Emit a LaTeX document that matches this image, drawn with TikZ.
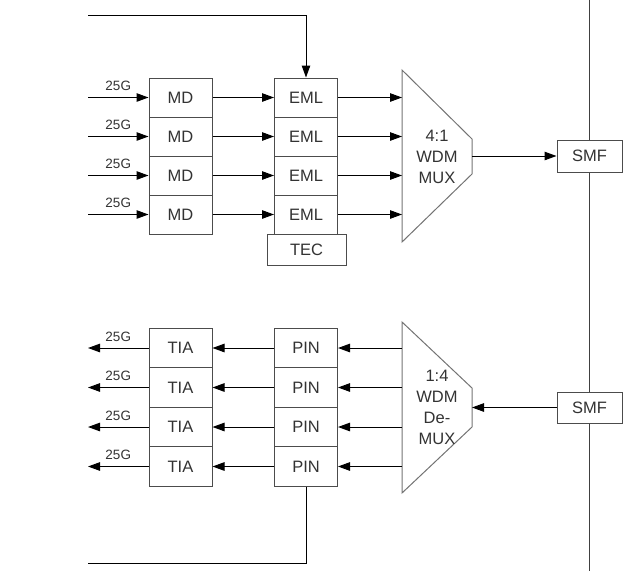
\documentclass[tikz,border=0pt]{standalone}
\usepackage{fontspec}
\setmainfont{Liberation Sans}
\usetikzlibrary{arrows.meta}
\tikzset{
  block/.style={
    draw=black!70,
    fill=white,
    line width=1pt,
    text=black!80,
    inner sep=0pt,
    font=\fontsize{16.5}{19}\selectfont
  },
  chan/.style={block, minimum width=63pt, minimum height=39pt},
  sig/.style={-{Triangle[length=12pt,width=8.5pt]}, line width=1pt},
  rate/.style={midway, yshift=11.5pt, inner sep=0pt, text=black!80,
    font=\fontsize{13.5}{15}\selectfont},
  wdm/.style={draw=black!55, line width=1pt},
}

\begin{document}
\begin{tikzpicture}[x=1pt,y=-1pt]
\useasboundingbox (0,0) rectangle (640,571);
% transmit side
\node (md1) at (180.5,97.5) [chan] {MD};
\node (md2) at (180.5,136.5) [chan] {MD};
\node (md3) at (180.5,175.5) [chan] {MD};
\node (md4) at (180.5,214.5) [chan] {MD};
\node (eml1) at (306,97.5) [chan] {EML};
\node (eml2) at (306,136.5) [chan] {EML};
\node (eml3) at (306,175.5) [chan] {EML};
\node (eml4) at (306,214.5) [chan] {EML};
\node (tec) at (306.5,249.5) [block,minimum width=79pt,minimum height=31pt] {TEC};
\draw [wdm] (402,70) -- (472,139) -- (472,174) -- (402,242) -- cycle;
\node (mux) at (437,157) [align=center,text=black!80,
  font=\fontsize{16.5}{21}\selectfont] {4:1\\WDM\\MUX};
\coordinate (muxin) at (402,156);
\coordinate (muxout) at (472,156);
% receive side
\node (tia1) at (180.5,348) [chan,minimum height=39.5pt] {TIA};
\node (tia2) at (180.5,387.5) [chan,minimum height=39.5pt] {TIA};
\node (tia3) at (180.5,427) [chan,minimum height=39.5pt] {TIA};
\node (tia4) at (180.5,466.5) [chan,minimum height=39.5pt] {TIA};
\node (pin1) at (306,348) [chan,minimum height=39.5pt] {PIN};
\node (pin2) at (306,387.5) [chan,minimum height=39.5pt] {PIN};
\node (pin3) at (306,427) [chan,minimum height=39.5pt] {PIN};
\node (pin4) at (306,466.5) [chan,minimum height=39.5pt] {PIN};
\draw [wdm] (402,322) -- (472,388) -- (472,427) -- (402,493) -- cycle;
\node (demux) at (437,407.5) [align=center,text=black!80,
  font=\fontsize{16.5}{21}\selectfont] {1:4\\WDM\\De-\\MUX};
\coordinate (dmxin) at (472,407.5);
\coordinate (dmxout) at (402,407.5);
% fibre
\node (smf1) at (589.5,156) [block,minimum width=65pt,minimum height=32pt] {SMF};
\node (smf2) at (589.5,407.5) [block,minimum width=65pt,minimum height=31pt] {SMF};
\coordinate (ftop) at (589.5,0);
\coordinate (fbot) at (589.5,571);
\draw [line width=1pt,black!75] (ftop) -- (smf1.north);
\draw [line width=1pt,black!75] (smf1.south) -- (smf2.north);
\draw [line width=1pt,black!75] (smf2.south) -- (fbot);
% control lines
\coordinate (ctl) at (88,15);
\coordinate (mon) at (88,563);
\draw [sig] (ctl) -| (eml1.north);
\draw [line width=1pt] (pin4.south) |- (mon);
% transmit signals
\coordinate (in1) at (88,97.5);
\coordinate (in2) at (88,136.5);
\coordinate (in3) at (88,175.5);
\coordinate (in4) at (88,214.5);
\draw [sig] (in1) -- node[rate] {25G} (md1.west);
\draw [sig] (in2) -- node[rate] {25G} (md2.west);
\draw [sig] (in3) -- node[rate] {25G} (md3.west);
\draw [sig] (in4) -- node[rate] {25G} (md4.west);
\draw [sig] (md1.east) -- (eml1.west);
\draw [sig] (md2.east) -- (eml2.west);
\draw [sig] (md3.east) -- (eml3.west);
\draw [sig] (md4.east) -- (eml4.west);
\draw [sig] (eml1.east) -- (eml1.east -| muxin);
\draw [sig] (eml2.east) -- (eml2.east -| muxin);
\draw [sig] (eml3.east) -- (eml3.east -| muxin);
\draw [sig] (eml4.east) -- (eml4.east -| muxin);
\draw [sig] (muxout) -- (smf1.west);
% receive signals
\coordinate (out1) at (88,348);
\coordinate (out2) at (88,387.5);
\coordinate (out3) at (88,427);
\coordinate (out4) at (88,466.5);
\draw [sig] (smf2.west) -- (dmxin);
\draw [sig] (pin1.east -| dmxout) -- (pin1.east);
\draw [sig] (pin2.east -| dmxout) -- (pin2.east);
\draw [sig] (pin3.east -| dmxout) -- (pin3.east);
\draw [sig] (pin4.east -| dmxout) -- (pin4.east);
\draw [sig] (pin1.west) -- (tia1.east);
\draw [sig] (pin2.west) -- (tia2.east);
\draw [sig] (pin3.west) -- (tia3.east);
\draw [sig] (pin4.west) -- (tia4.east);
\draw [sig] (tia1.west) -- node[rate] {25G} (out1);
\draw [sig] (tia2.west) -- node[rate] {25G} (out2);
\draw [sig] (tia3.west) -- node[rate] {25G} (out3);
\draw [sig] (tia4.west) -- node[rate] {25G} (out4);
\end{tikzpicture}
\end{document}
